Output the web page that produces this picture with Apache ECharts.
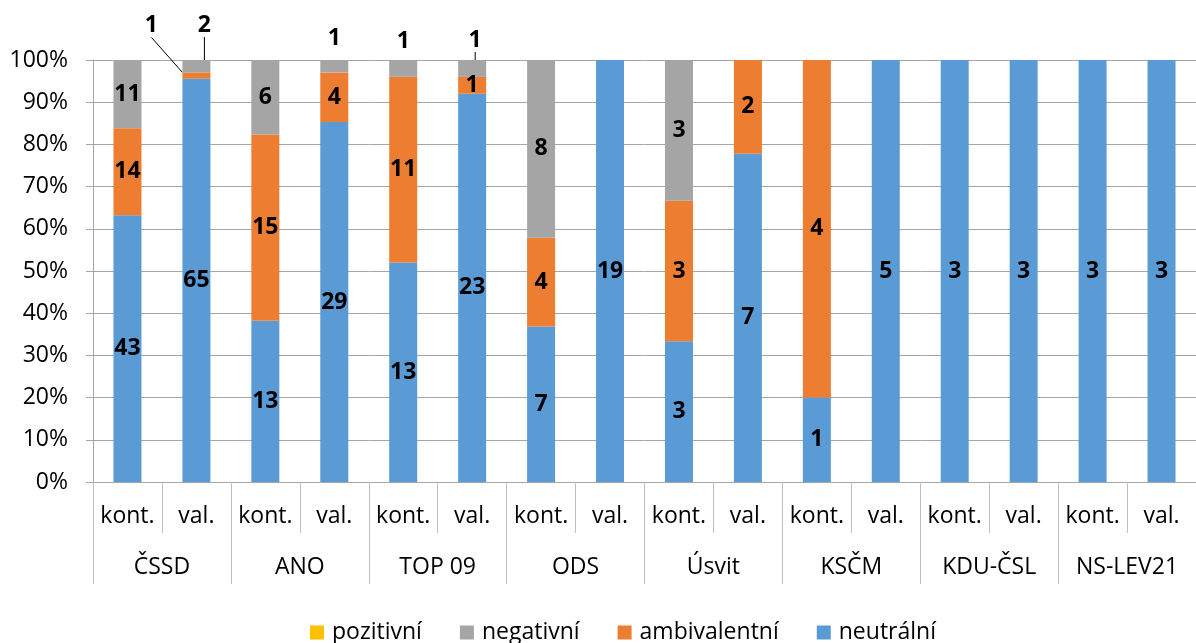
<!DOCTYPE html>
<html>
<head>
<meta charset="utf-8">
<script src="https://cdn.jsdelivr.net/npm/echarts@6/dist/echarts.min.js"></script>
<style>html,body{margin:0;padding:0;background:#fff;}#c{width:1196px;height:643px;}</style>
</head>
<body>
<div id="c"></div>
<script>
// ---- data ----
const groups = ['ČSSD', 'ANO', 'TOP 09', 'ODS', 'Úsvit', 'KSČM', 'KDU-ČSL', 'NS-LEV21'];
const subCats = ['kont.', 'val.', 'kont.', 'val.', 'kont.', 'val.', 'kont.', 'val.',
                 'kont.', 'val.', 'kont.', 'val.', 'kont.', 'val.', 'kont.', 'val.'];
const seriesNames = ['pozitivní', 'negativní', 'ambivalentní', 'neutrální'];
const pozitivni    = [0, 0, 0, 0, 0, 0, 0, 0, 0, 0, 0, 0, 0, 0, 0, 0];
const negativni    = [11, 2, 6, 1, 1, 1, 8, 0, 3, 0, 0, 0, 0, 0, 0, 0];
const ambivalentni = [14, 1, 15, 4, 11, 1, 4, 0, 3, 2, 4, 0, 0, 0, 0, 0];
const neutralni    = [43, 65, 13, 29, 13, 23, 7, 19, 3, 7, 1, 5, 3, 3, 3, 3];
const yTicks = [0, 10, 20, 30, 40, 50, 60, 70, 80, 90, 100];

// ---- styling config ----
const FONT = 'Open Sans';
const colors = { 'pozitivní': '#FFC000', 'negativní': '#A5A5A5', 'ambivalentní': '#ED7D31', 'neutrální': '#5B9BD5' };
// labels placed above the bar (small segments): seriesName -> {index: {distance, dx, dy, line}}
const outside = {
  'negativní': { 1: { distance: 5, dx: 8, dy: -18, line: true }, 3: { distance: 10 }, 4: { distance: 7 }, 5: { distance: 5, dx: 3, dy: -3, line: true } },
  'ambivalentní': { 1: { distance: 5, dx: -45, dy: -30, line: true } }
};

const totals = neutralni.map((v, i) => v + ambivalentni[i] + negativni[i] + pozitivni[i]);
const pct = arr => arr.map((v, i) => totals[i] ? v / totals[i] * 100 : 0);

function makeSeries(name, raw, showLabel) {
  const p = pct(raw);
  const o = outside[name] || {};
  const data = p.map((v, i) => {
    const item = { value: v };
    if (o[i]) {
      item.label = { position: 'top', distance: o[i].distance };
      if (o[i].line) item.labelLine = { show: true, lineStyle: { color: '#000', width: 1 } };
    }
    return item;
  });
  return {
    name: name,
    type: 'bar',
    stack: 'all',
    barWidth: 28,
    xAxisIndex: 0,
    itemStyle: { color: colors[name] },
    label: {
      show: showLabel,
      position: 'inside',
      fontFamily: FONT,
      fontSize: 23,
      fontWeight: 'bold',
      color: '#000',
      formatter: prm => raw[prm.dataIndex] ? String(raw[prm.dataIndex]) : ''
    },
    labelLine: { show: false, lineStyle: { color: '#000', width: 1 } },
    labelLayout: prm => {
      const c = o[prm.dataIndex];
      if (c && (c.dx || c.dy)) return { dx: c.dx || 0, dy: c.dy || 0 };
      return {};
    },
    data: data
  };
}

const chart = echarts.init(document.getElementById('c'), null, { renderer: 'canvas' });
const gray = '#a6a6a6';
chart.setOption({
  animation: false,
  backgroundColor: '#fff',
  textStyle: { fontFamily: FONT },
  grid: { left: 93, top: 60, width: 1110, height: 422, containLabel: false },
  legend: {
    data: seriesNames,
    left: 305,
    top: 616,
    itemWidth: 14,
    itemHeight: 14,
    itemGap: 38,
    icon: 'rect',
    textStyle: { fontFamily: FONT, fontSize: 23, color: '#000', padding: [0, 0, 0, 3] }
  },
  xAxis: [
    {
      type: 'category',
      data: subCats,
      position: 'bottom',
      axisLine: { show: true, lineStyle: { color: gray, width: 1 } },
      axisTick: { show: true, interval: 0, alignWithLabel: false, length: 51, lineStyle: { color: '#bfbfbf' } },
      axisLabel: { interval: 0, margin: 23, fontFamily: FONT, fontSize: 23, color: '#000' },
      splitLine: { show: false }
    },
    {
      type: 'category',
      data: groups,
      position: 'bottom',
      offset: 0,
      axisLine: { show: false },
      axisTick: { show: true, interval: 0, alignWithLabel: false, length: 102, lineStyle: { color: '#bfbfbf' } },
      axisLabel: { interval: 0, margin: 74, fontFamily: FONT, fontSize: 23, color: '#000' },
      splitLine: { show: false }
    }
  ],
  yAxis: {
    type: 'value',
    min: yTicks[0],
    max: yTicks[yTicks.length - 1],
    interval: yTicks[1] - yTicks[0],
    axisLine: { show: true, lineStyle: { color: gray } },
    axisTick: { show: true, length: 7, lineStyle: { color: gray } },
    axisLabel: { formatter: '{value}%', margin: 25, fontFamily: FONT, fontSize: 23, color: '#000' },
    splitLine: { show: true, lineStyle: { color: gray, width: 1 } }
  },
  series: [
    makeSeries('neutrální', neutralni, true),
    makeSeries('ambivalentní', ambivalentni, true),
    makeSeries('negativní', negativni, true),
    makeSeries('pozitivní', pozitivni, false)
  ]
});
</script>
</body>
</html>
